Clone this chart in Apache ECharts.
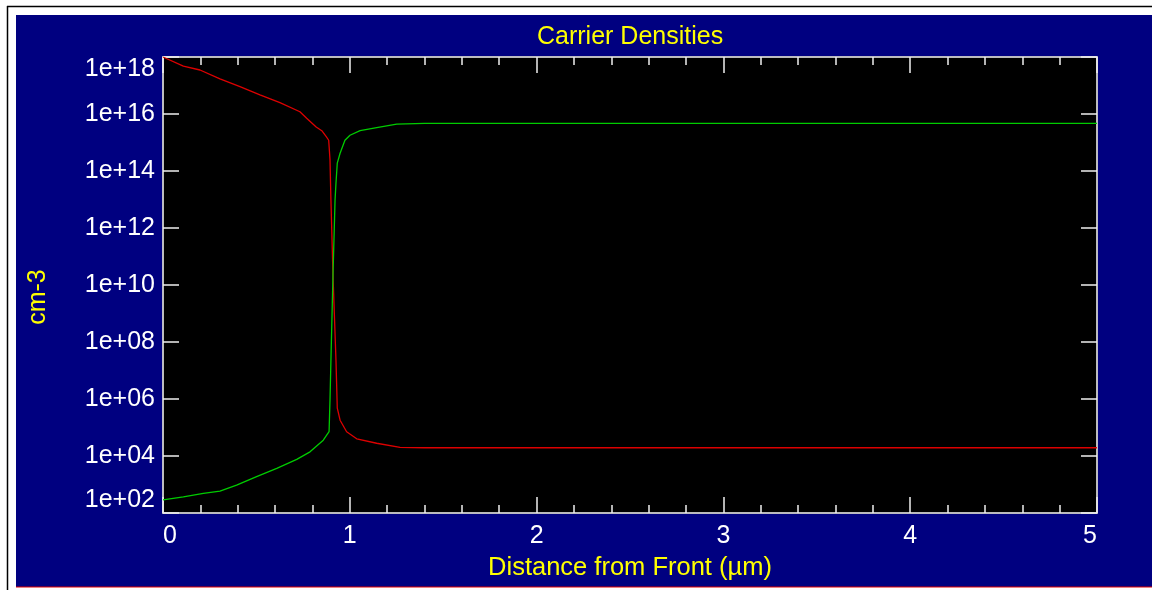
<!DOCTYPE html>
<html>
<head>
<meta charset="utf-8">
<script src="https://cdn.jsdelivr.net/npm/echarts@6/dist/echarts.min.js"></script>
<style>
  html, body { margin: 0; padding: 0; background: #ffffff; }
  #chart { width: 1152px; height: 590px; }
</style>
</head>
<body>
<div id="chart"></div>
<script>
// ---- data ----
const titleText = 'Carrier Densities';
const xAxisName = 'Distance from Front (µm)';
const yAxisName = 'cm-3';

// red series
const redX = [0, 0.109, 0.198, 0.305, 0.412, 0.519, 0.626, 0.733, 0.769, 0.82, 0.85, 0.874, 0.887, 0.894, 0.899, 0.91, 0.926, 0.933, 0.948, 0.983, 1.037, 1.144, 1.269, 1.4, 2, 3, 4, 5];
const redY = [1e18, 4.8e17, 3.5e17, 1.7e17, 9.1e16, 4.7e16, 2.5e16, 1.2e16, 7.1e15, 3.5e15, 2.6e15, 1.6e15, 1.2e15, 2.5e14, 9.5e12, 2.2e10, 2.3e7, 4.8e5, 1.8e5, 7.1e4, 4.0e4, 2.8e4, 2.0e4, 1.95e4, 1.95e4, 1.95e4, 1.95e4, 1.95e4];

// green series
const greenX = [0, 0.109, 0.216, 0.305, 0.394, 0.501, 0.609, 0.716, 0.787, 0.858, 0.889, 0.894, 0.899, 0.91, 0.921, 0.926, 0.933, 0.948, 0.974, 1.001, 1.055, 1.144, 1.251, 1.4, 2, 3, 4, 5];
const greenY = [2.9e2, 3.7e2, 4.9e2, 5.9e2, 9.5e2, 1.9e3, 3.7e3, 7.6e3, 1.4e4, 3.6e4, 7.1e4, 9.1e5, 2.3e7, 2.2e10, 9.5e12, 3.7e13, 1.9e14, 4.2e14, 1.2e15, 1.8e15, 2.6e15, 3.3e15, 4.4e15, 4.7e15, 4.7e15, 4.7e15, 4.7e15, 4.7e15];

const xMin = 0, xMax = 5, xInterval = 1;
const yMin = 1e2, yMax = 1e18;

// ---- chart ----
const FONT = '"Liberation Sans", Arial, sans-serif';
const pair = (xs, ys) => xs.map((x, i) => [x, ys[i]]);
const expLabel = v => {
  const e = Math.round(Math.log10(v));
  return '1e+' + String(e).padStart(2, '0');
};

const chart = echarts.init(document.getElementById('chart'), null, { renderer: 'canvas' });

const axisLineStyle = { color: '#c8c8c8', width: 1.5 };
const tickStyle = { color: '#f0f0f0', width: 1.5 };

chart.setOption({
  backgroundColor: 'transparent',
  animation: false,
  graphic: [
    { type: 'rect', z: -100, shape: { x: 16, y: 15, width: 1136, height: 572 }, style: { fill: '#000080' } },
    { type: 'line', z: -90, shape: { x1: 16, y1: 587, x2: 1152, y2: 587 }, style: { stroke: '#e00000', lineWidth: 1 } },
    { type: 'line', z: -90, shape: { x1: 7.5, y1: 6, x2: 7.5, y2: 590 }, style: { stroke: '#000000', lineWidth: 1.5 } },
    { type: 'line', z: -90, shape: { x1: 7, y1: 6.5, x2: 1152, y2: 6.5 }, style: { stroke: '#000000', lineWidth: 1.5 } }
  ],
  title: {
    text: titleText,
    left: 532,
    top: 20,
    textStyle: { color: '#ffff00', fontFamily: FONT, fontSize: 25, fontWeight: 'normal' }
  },
  grid: {
    left: 163, top: 57, width: 934, height: 456,
    show: true, backgroundColor: '#000000', borderColor: '#c8c8c8', borderWidth: 1.5
  },
  xAxis: [
    {
      type: 'value', min: xMin, max: xMax, interval: xInterval, position: 'bottom',
      name: xAxisName, nameLocation: 'middle', nameGap: 42,
      nameTextStyle: { color: '#ffff00', fontFamily: FONT, fontSize: 25.5 },
      axisLine: { show: true, onZero: false, lineStyle: axisLineStyle },
      axisTick: { show: true, inside: true, length: 16, lineStyle: tickStyle },
      minorTick: { show: true, splitNumber: 5, length: 8, lineStyle: tickStyle },
      axisLabel: { color: '#ffffff', fontFamily: FONT, fontSize: 25, margin: 11, alignMinLabel: 'left', alignMaxLabel: 'right' },
      splitLine: { show: false }
    },
    {
      type: 'value', min: xMin, max: xMax, interval: xInterval, position: 'top',
      axisLine: { show: true, onZero: false, lineStyle: axisLineStyle },
      axisTick: { show: true, inside: true, length: 16, lineStyle: tickStyle },
      minorTick: { show: true, splitNumber: 5, length: 8, lineStyle: tickStyle },
      axisLabel: { show: false },
      splitLine: { show: false }
    }
  ],
  yAxis: [
    {
      type: 'log', logBase: 10, min: yMin, max: yMax, interval: 2, position: 'left',
      name: yAxisName, nameLocation: 'middle', nameGap: 112, nameRotate: 90,
      nameTextStyle: { color: '#ffff00', fontFamily: FONT, fontSize: 25, padding: [0, 24, 0, 0] },
      axisLine: { show: true, lineStyle: axisLineStyle },
      axisTick: { show: true, inside: true, length: 16, lineStyle: tickStyle },
      axisLabel: {
        color: '#ffffff', fontFamily: FONT, fontSize: 25, margin: 8, formatter: expLabel,
        verticalAlignMinLabel: 'bottom', verticalAlignMaxLabel: 'top'
      },
      splitLine: { show: false }
    },
    {
      type: 'log', logBase: 10, min: yMin, max: yMax, interval: 2, position: 'right',
      axisLine: { show: true, onZero: false, lineStyle: axisLineStyle },
      axisTick: { show: true, inside: true, length: 16, lineStyle: tickStyle },
      axisLabel: { show: false },
      splitLine: { show: false }
    }
  ],
  series: [
    {
      type: 'line', name: 'red', xAxisIndex: 0, yAxisIndex: 0,
      data: pair(redX, redY), showSymbol: false, symbol: 'none',
      lineStyle: { color: '#dd0000', width: 1.3 }, z: 3
    },
    {
      type: 'line', name: 'green', xAxisIndex: 0, yAxisIndex: 0,
      data: pair(greenX, greenY), showSymbol: false, symbol: 'none',
      lineStyle: { color: '#00cc00', width: 1.3 }, z: 3
    }
  ]
});
</script>
</body>
</html>
